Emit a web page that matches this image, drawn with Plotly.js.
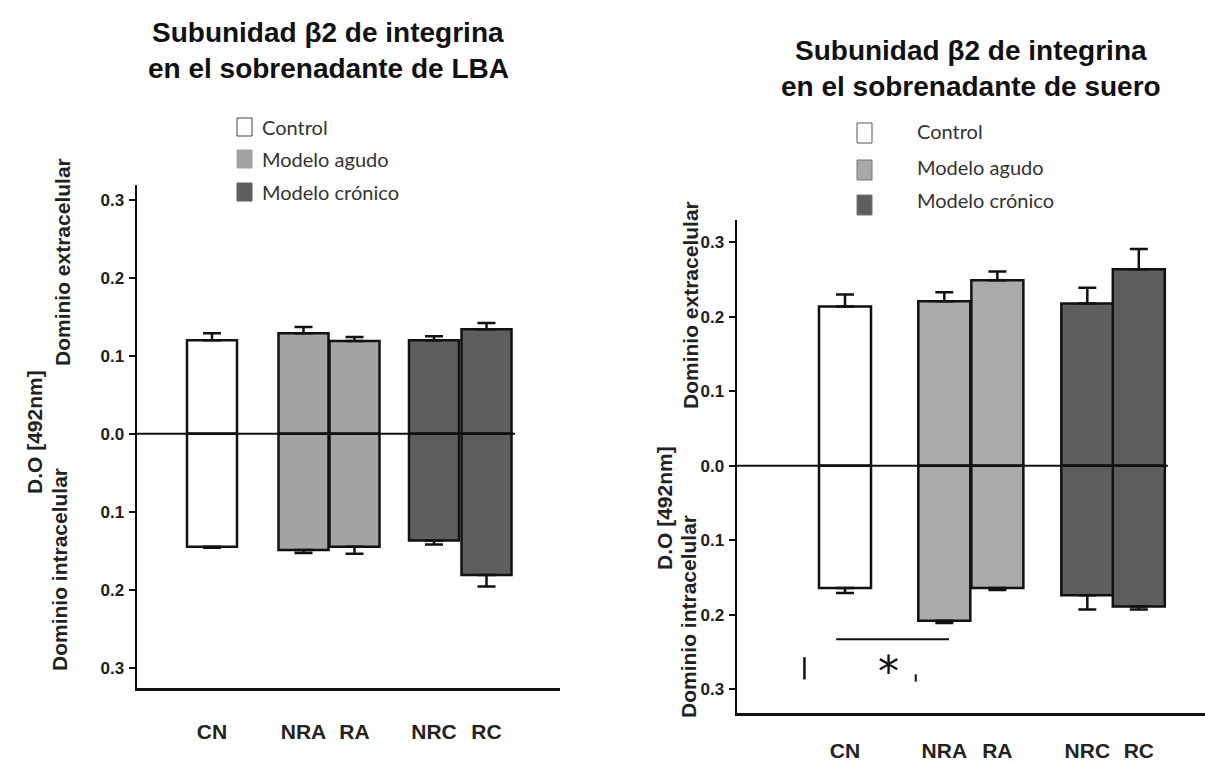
<!DOCTYPE html>
<html>
<head>
<meta charset="utf-8">
<script src="https://cdn.plot.ly/plotly-3.0.1.min.js"></script>
<style>html,body{margin:0;padding:0;background:#fff;}#chart{width:1205px;height:764px;}</style>
</head>
<body>
<div id="chart"></div>
<script>
// ---- data ----
var categories = ["CN", "NRA", "RA", "NRC", "RC"];
var groups = ["Control", "Modelo agudo", "Modelo agudo", "Modelo crónico", "Modelo crónico"];
var tickVals = [-0.3, -0.2, -0.1, 0, 0.1, 0.2, 0.3];
var tickText = ["0.3", "0.2", "0.1", "0.0", "0.1", "0.2", "0.3"];

// Panel A: LBA supernatant
var lbaExtra     = [0.120, 0.129, 0.119, 0.120, 0.134];
var lbaExtraErr  = [0.009, 0.008, 0.005, 0.005, 0.008];
var lbaIntra     = [-0.145, -0.149, -0.145, -0.137, -0.181];
var lbaIntraErr  = [0.001, 0.004, 0.009, 0.005, 0.015];

// Panel B: serum supernatant
var serExtra     = [0.214, 0.221, 0.249, 0.218, 0.264];
var serExtraErr  = [0.016, 0.012, 0.012, 0.021, 0.027];
var serIntra     = [-0.164, -0.208, -0.164, -0.174, -0.189];
var serIntraErr  = [0.007, 0.003, 0.003, 0.019, 0.004];

// ---- layout / style ----
var W = 1205, H = 764;
function px(x){ return x / W; }
function py(y){ return 1 - y / H; }
var groupColor = {"Control": "#ffffff", "Modelo agudo": "#a4a4a4", "Modelo crónico": "#5e5e5e"};
var colorsL = groups.map(function(g){ return groupColor[g]; });
var colorsR = groups.map(function(g){ return g === "Modelo agudo" ? "#aaaaaa" : groupColor[g]; });
var posL = [0, 1.83, 2.85, 4.44, 5.49];
var posR = [0, 1.91, 2.93, 4.66, 5.65];

function barTrace(xpos, vals, errs, colors, xa, ya, up){
  return {
    type: "bar", x: xpos, y: vals, width: 1.0, xaxis: xa, yaxis: ya,
    marker: {color: colors, line: {color: "#111", width: 2.5}},
    error_y: {type: "data", symmetric: false,
      array: up ? errs : errs.map(function(){return 0;}),
      arrayminus: up ? errs.map(function(){return 0;}) : errs,
      color: "#111", thickness: 2.5, width: 9},
    hoverinfo: "skip", showlegend: false
  };
}

var data = [
  barTrace(posL, lbaExtra, lbaExtraErr, colorsL, "x", "y", true),
  barTrace(posL, lbaIntra, lbaIntraErr, colorsL, "x", "y", false),
  barTrace(posR, serExtra, serExtraErr, colorsR, "x2", "y2", true),
  barTrace(posR, serIntra, serIntraErr, colorsR, "x2", "y2", false)
];

var tickFont = {family: "Liberation Sans, Arial, sans-serif", size: 17, color: "#222", weight: "bold"};
var catFont = {family: "Liberation Sans, Arial, sans-serif", size: 21, color: "#222", weight: "bold"};

function yAxis(domain, range, anchor){
  return {domain: domain, range: range, anchor: anchor, tickvals: tickVals, ticktext: tickText,
    ticks: "outside", ticklen: 6, tickwidth: 2, tickcolor: "#111", showline: true, linecolor: "#111",
    linewidth: 2.5, showgrid: false, zeroline: false, tickfont: tickFont, ticklabelstandoff: 1, fixedrange: true};
}
function xAxis(domain, range, anchor, pos, standoff){
  return {domain: domain, range: range, anchor: anchor, tickvals: pos, ticktext: categories,
    ticks: "", showline: true, linecolor: "#111", linewidth: 2.5, showgrid: false, zeroline: false,
    tickfont: catFont, ticklabelstandoff: standoff, fixedrange: true};
}

var titleFont = {family: "Liberation Sans, Arial, sans-serif", size: 28, color: "#111", weight: "bold"};
var labFont = {family: "Liberation Sans, Arial, sans-serif", size: 21, color: "#222", weight: "bold"};
var legFont = {family: "Lato, Open Sans, sans-serif", size: 20, color: "#333"};

function ann(text, x, y, font, opts){
  var a = {text: text, x: px(x), y: py(y), xref: "paper", yref: "paper", showarrow: false, font: font,
    xanchor: "center", yanchor: "middle"};
  if (opts) for (var k in opts) a[k] = opts[k];
  return a;
}

var legendItems = ["Control", "Modelo agudo", "Modelo crónico"];
var annotations = [
  ann("Subunidad β2 de integrina", 328, 33, titleFont),
  ann("en el sobrenadante de LBA", 328, 68, titleFont),
  ann("Subunidad β2 de integrina", 971, 51, titleFont),
  ann("en el sobrenadante de suero", 971, 87, titleFont),
  ann("D.O [492nm]", 34, 432, labFont, {textangle: -90}),
  ann("Dominio extracelular", 63, 262, labFont, {textangle: -90}),
  ann("Dominio intracelular", 59, 570, labFont, {textangle: -90}),
  ann("D.O [492nm]", 664, 508, labFont, {textangle: -90}),
  ann("Dominio extracelular", 690, 305, labFont, {textangle: -90}),
  ann("Dominio intracelular", 688, 617, labFont, {textangle: -90}),
  {text: "*", x: 0.83, y: -0.276, xref: "x2", yref: "y2", showarrow: false,
   font: {family: "DejaVu Sans, sans-serif", size: 42, color: "#111"}, xanchor: "center", yanchor: "middle"}
];
var shapes = [];
var legYL = [127, 159, 192], legYR = [133, 170, 205], legTxtYR = [131, 167, 200];
legendItems.forEach(function(name, i){
  annotations.push(ann(name, 260, legYL[i], legFont, {xanchor: "left"}));
  annotations.push(ann(name, 915, legTxtYR[i], legFont, {xanchor: "left"}));
  shapes.push({type: "rect", xref: "paper", yref: "paper", x0: px(237), x1: px(252), y0: py(legYL[i]+9), y1: py(legYL[i]-9),
    fillcolor: groupColor[name], line: {color: name === "Control" ? "#444" : groupColor[name], width: 1}});
  shapes.push({type: "rect", xref: "paper", yref: "paper", x0: px(857), x1: px(872), y0: py(legYR[i]+10), y1: py(legYR[i]-10),
    fillcolor: name === "Modelo agudo" ? "#a8a8a8" : groupColor[name], line: {color: name === "Control" ? "#555" : "#777", width: 1}});
});
// zero lines
shapes.push({type: "line", xref: "x", yref: "y", x0: -1.5, x1: 6.06, y0: 0, y1: 0, line: {color: "#111", width: 2}});
shapes.push({type: "line", xref: "x2", yref: "y2", x0: -2.077, x1: 6.21, y0: 0, y1: 0, line: {color: "#111", width: 2}});
// significance bracket (serum panel)
shapes.push({type: "line", xref: "x2", yref: "y2", x0: -0.17, x1: 2.0, y0: -0.233, y1: -0.233, line: {color: "#111", width: 2}});
shapes.push({type: "line", xref: "x2", yref: "y2", x0: -0.78, x1: -0.78, y0: -0.257, y1: -0.287, line: {color: "#111", width: 2.5}});
shapes.push({type: "line", xref: "x2", yref: "y2", x0: 1.36, x1: 1.36, y0: -0.28, y1: -0.29, line: {color: "#111", width: 2}});

var layout = {
  width: W, height: H, margin: {l: 0, r: 0, t: 0, b: 0},
  paper_bgcolor: "#ffffff", plot_bgcolor: "rgba(0,0,0,0)",
  barmode: "overlay", showlegend: false,
  xaxis: xAxis([px(137), px(560)], [-1.5, 6.96], "y", posL, 23),
  yaxis: yAxis([py(688), py(185)], [-0.326, 0.319], "x"),
  xaxis2: xAxis([px(737), 1], [-2.077, 6.923], "y2", posR, 17),
  yaxis2: yAxis([py(713), py(220)], [-0.332, 0.330], "x2"),
  annotations: annotations, shapes: shapes
};

Plotly.newPlot("chart", data, layout, {displayModeBar: false, staticPlot: true});
</script>
</body>
</html>
